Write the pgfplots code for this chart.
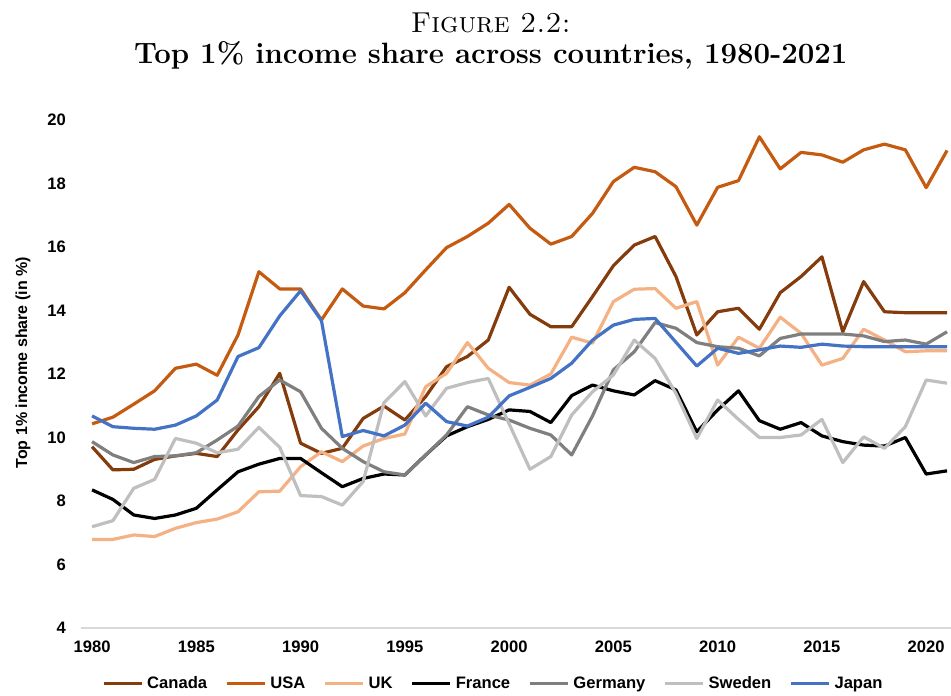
\documentclass[border=0pt]{standalone}
\usepackage{fontspec}
\newfontfamily\arial{Liberation Sans}
\usepackage{pgfplots}
\usepackage{pgfplotstable}
\pgfplotsset{compat=1.18}

\definecolor{canada}{HTML}{843C0C}
\definecolor{usa}{HTML}{C55A11}
\definecolor{uk}{HTML}{F4B183}
\definecolor{france}{HTML}{000000}
\definecolor{germany}{HTML}{7F7F7F}
\definecolor{sweden}{HTML}{BFBFBF}
\definecolor{japan}{HTML}{4472C4}
\definecolor{axisgray}{HTML}{D9D9D9}

% top 1% share
\pgfplotstableread{
year canada usa   uk    france germany sweden japan
1980 9.71  10.43  6.79  8.35   9.87    7.19   10.68
1981 8.98  10.64  6.79  8.05   9.45    7.38   10.34
1982 9.00  11.05  6.93  7.56   9.21    8.40   10.29
1983 9.31  11.47  6.88  7.45   9.40    8.68   10.26
1984 9.42  12.18  7.14  7.56   9.42    9.97   10.39
1985 9.50  12.31  7.32  7.77   9.52    9.82   10.68
1986 9.40  11.96  7.43  8.35   9.92    9.52   11.18
1987 10.24 13.23  7.66  8.92   10.36   9.63   12.55
1988 10.97 15.22  8.29  9.16   11.29   10.32  12.83
1989 12.02 14.68  8.31  9.34   11.81   9.69   13.83
1990 9.82  14.68  9.08  9.34   11.44   8.17   14.62
1991 9.50  13.70  9.55  8.89   10.29   8.14   13.68
1992 9.66  14.68  9.24  8.45   9.66    7.87   10.03
1993 10.60 14.14  9.73  8.71   9.24    8.61   10.22
1994 10.99 14.05  9.97  8.85   8.92    11.10  10.05
1995 10.55 14.56  10.11 8.82   8.82    11.76  10.39
1996 11.29 15.28  11.60 9.45   9.45    10.68  11.08
1997 12.23 15.98  12.02 10.05  10.08   11.55  10.50
1998 12.55 16.33  12.99 10.34  10.97   11.73  10.36
1999 13.07 16.75  12.18 10.57  10.71   11.86  10.64
2000 14.73 17.34  11.73 10.87  10.55   10.43  11.31
2001 13.88 16.59  11.65 10.82  10.29   9.00   11.58
2002 13.49 16.09  12.00 10.47  10.08   9.40   11.86
2003 13.49 16.33  13.16 11.32  9.45    10.71  12.34
2004 14.44 17.06  12.97 11.65  10.68   11.44  13.07
2005 15.41 18.06  14.28 11.47  12.13   11.97  13.54
2006 16.06 18.51  14.67 11.34  12.70   13.07  13.72
2007 16.33 18.37  14.69 11.79  13.62   12.49  13.75
2008 15.07 17.90  14.07 11.50  13.44   11.39  13.00
2009 13.23 16.69  14.28 10.18  12.99   9.97   12.25
2010 13.96 17.88  12.28 10.87  12.86   11.18  12.81
2011 14.07 18.09  13.16 11.47  12.81   10.57  12.65
2012 13.41 19.47  12.81 10.53  12.57   10.00  12.76
2013 14.56 18.46  13.79 10.26  13.12   10.00  12.88
2014 15.07 18.98  13.28 10.47  13.26   10.08  12.84
2015 15.69 18.90  12.28 10.05  13.26   10.57  12.94
2016 13.33 18.67  12.49 9.87   13.26   9.21   12.88
2017 14.91 19.06  13.41 9.76   13.20   10.02  12.86
2018 13.96 19.24  13.07 9.73   13.02   9.66   12.86
2019 13.93 19.06  12.70 10.00  13.07   10.34  12.86
2020 13.93 17.87  12.73 8.85   12.94   11.81  12.86
2021 13.93 19.04  12.73 8.95   13.33   11.71  12.86
}\shares

\begin{document}
\begin{tikzpicture}
\begin{axis}[
    name=ax,
    scale only axis,
    width=435pt, height=254pt,
    xmin=1979.47, xmax=2021.19,
    ymin=4, ymax=20,
    xtick={1980,1985,...,2020},
    ytick={4,6,...,20},
    axis line style={draw=none},
    major tick length=0pt,
    tick label style={font=\arial\bfseries\fontsize{8.3}{10}\selectfont},
    /pgf/number format/assume math mode=true,
    /pgf/number format/1000 sep={},
    xticklabel style={yshift=-3pt},
    yticklabel style={xshift=-4pt},
    clip=false,
    every axis plot/.append style={line width=1.6pt, line join=round, no markers},
    legend columns=7,
    legend style={
      at={(0.475,-0.11)}, anchor=center,
      draw=none, fill=none,
      font=\arial\bfseries\fontsize{8.3}{10}\selectfont,
      /tikz/every even column/.append style={column sep=7pt},
    },
    legend image code/.code={\draw[#1] (0pt,0pt) -- (19pt,0pt);},
  ]

  \draw[axisgray, line width=0.75pt] (rel axis cs:0,0) -- (rel axis cs:1,0);

  \addplot[canada] table[x=year, y=canada] {\shares};
  \addlegendentry{Canada}
  \addplot[usa] table[x=year, y=usa] {\shares};
  \addlegendentry{USA}
  \addplot[uk] table[x=year, y=uk] {\shares};
  \addlegendentry{UK}
  \addplot[france] table[x=year, y=france] {\shares};
  \addlegendentry{France}
  \addplot[germany] table[x=year, y=germany] {\shares};
  \addlegendentry{Germany}
  \addplot[sweden] table[x=year, y=sweden] {\shares};
  \addlegendentry{Sweden}
  \addplot[japan] table[x=year, y=japan] {\shares};
  \addlegendentry{Japan}

  % titles
  \node[anchor=base, yshift=43.5pt, font=\fontsize{14.4}{17}\selectfont]
    at (rel axis cs:0.471,1) {\textsc{Figure 2.2:}};
  \node[anchor=base, yshift=28pt, font=\bfseries\fontsize{14.7}{17}\selectfont]
    at (rel axis cs:0.471,1) {Top 1\% income share across countries, 1980-2021};

  \node[rotate=90, font=\arial\bfseries\fontsize{8}{10}\selectfont]
    at (rel axis cs:-0.0667,0.522) {Top 1\% income share (in \%)};

\end{axis}
\pgfresetboundingbox
\path ([xshift=-40.5pt,yshift=-33.5pt]ax.south west) rectangle ([yshift=60pt]ax.north east);
\end{tikzpicture}
\end{document}
